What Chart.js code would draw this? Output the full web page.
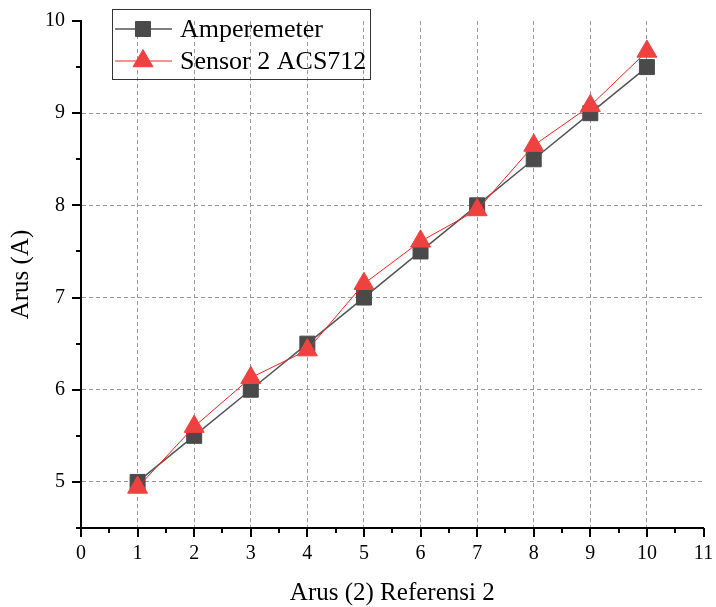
<!DOCTYPE html>
<html><head><meta charset="utf-8">
<script src="https://cdn.jsdelivr.net/npm/chart.js@4"></script>
<style>html,body{margin:0;padding:0;background:#fff;overflow:hidden}#wrap{width:716px;height:607px;position:relative}</style>
</head><body><div id="wrap"><canvas id="c" width="716" height="607"></canvas></div>
<script>
const xValues = [1, 2, 3, 4, 5, 6, 7, 8, 9, 10];
const amperemeter = [5, 5.5, 6, 6.5, 7, 7.5, 8, 8.5, 9, 9.5];
const sensor2 = [4.94, 5.6, 6.13, 6.43, 7.15, 7.61, 7.95, 8.65, 9.08, 9.67];
const seriesNames = ['Amperemeter', 'Sensor 2 ACS712'];
const xTicks = [0, 1, 2, 3, 4, 5, 6, 7, 8, 9, 10, 11];
const yTicks = [5, 6, 7, 8, 9, 10];
const xTitle = 'Arus (2) Referensi 2';
const yTitle = 'Arus (A)';

const FONT = "'Liberation Serif', 'Times New Roman', serif";
const GRAY_LINE = '#555555', GRAY_PT = '#4a4a4a';
const RED_LINE = '#ff2020', RED_PT = '#f04141';

const xMinor = xTicks.slice(0, -1).map(v => v + 0.5);
const yMinor = [yTicks[0] - 0.5].concat(yTicks.slice(0, -1).map(v => v + 0.5));

const axisTicks = {
  id: 'axisTicks',
  afterDraw(chart) {
    const ctx = chart.ctx, xs = chart.scales.x, ys = chart.scales.y;
    const ca = chart.chartArea;
    ctx.save();
    ctx.strokeStyle = '#000'; ctx.lineWidth = 2;
    ctx.beginPath();
    xTicks.forEach(v => { const p = Math.round(xs.getPixelForValue(v)); ctx.moveTo(p, ca.bottom); ctx.lineTo(p, ca.bottom + 9); });
    xMinor.forEach(v => { const p = Math.round(xs.getPixelForValue(v)); ctx.moveTo(p, ca.bottom); ctx.lineTo(p, ca.bottom + 5); });
    yTicks.forEach(v => { const p = Math.round(ys.getPixelForValue(v)); ctx.moveTo(ca.left, p); ctx.lineTo(ca.left - 9, p); });
    yMinor.forEach(v => { const p = Math.round(ys.getPixelForValue(v)); ctx.moveTo(ca.left, p); ctx.lineTo(ca.left - 5, p); });
    ctx.stroke();

    // legend
    ctx.lineWidth = 1; ctx.strokeStyle = '#333';
    ctx.strokeRect(112.5, 9.5, 258, 70);
    const rows = [
      {y: 29, line: GRAY_LINE, lw: 1.5, pt: GRAY_PT, style: 'rect', r: 10.6, text: seriesNames[0]},
      {y: 61, line: RED_LINE, lw: 1, pt: RED_PT, style: 'triangle', r: 11.5, text: seriesNames[1]}
    ];
    rows.forEach(rw => {
      ctx.strokeStyle = rw.line; ctx.lineWidth = rw.lw;
      ctx.beginPath(); ctx.moveTo(115, rw.y); ctx.lineTo(172, rw.y); ctx.stroke();
      ctx.fillStyle = rw.pt; ctx.strokeStyle = rw.pt; ctx.lineWidth = 1;
      Chart.helpers.drawPoint(ctx, {pointStyle: rw.style, radius: rw.r, rotation: 0, borderWidth: 1}, 143, rw.y);
      ctx.fillStyle = '#000';
      ctx.font = '26px ' + FONT;
      ctx.textBaseline = 'middle'; ctx.textAlign = 'left';
      ctx.fillText(rw.text, 180, rw.y + 1);
    });
    ctx.restore();
  }
};

const gridColorX = c => (c.tick && (c.tick.value === 0 || c.tick.value === 11)) ? 'rgba(0,0,0,0)' : '#9a9a9a';
const gridColorY = c => (c.tick && (c.tick.value === 10)) ? 'rgba(0,0,0,0)' : '#9a9a9a';

new Chart(document.getElementById('c'), {
  type: 'line',
  data: {
    datasets: [
      {
        label: seriesNames[1],
        data: xValues.map((x, i) => ({x, y: sensor2[i]})),
        borderColor: RED_LINE, borderWidth: 1,
        pointStyle: 'triangle', pointRadius: 11.5,
        pointBackgroundColor: RED_PT, pointBorderColor: RED_PT, pointBorderWidth: 1,
        order: 1, tension: 0
      },
      {
        label: seriesNames[0],
        data: xValues.map((x, i) => ({x, y: amperemeter[i]})),
        borderColor: GRAY_LINE, borderWidth: 1.5,
        pointStyle: 'rect', pointRadius: 10.6,
        pointBackgroundColor: GRAY_PT, pointBorderColor: GRAY_PT, pointBorderWidth: 1,
        order: 2, tension: 0
      }
    ]
  },
  options: {
    responsive: false, animation: false, devicePixelRatio: 1,
    layout: {padding: {left: 0, right: 10, top: 21, bottom: 0}},
    plugins: {legend: {display: false}, tooltip: {enabled: false}},
    scales: {
      x: {
        type: 'linear', min: 0, max: 11,
        afterBuildTicks: s => { s.ticks = xTicks.map(v => ({value: v})); },
        afterFit: s => { s.height = 79; s.paddingRight = 0; s.paddingLeft = 0; },
        grid: {color: gridColorX, lineWidth: 1, drawTicks: false},
        border: {display: true, color: '#000', width: 2, dash: [4, 3]},
        ticks: {color: '#000', font: {family: FONT, size: 20}, padding: 14, maxRotation: 0, autoSkip: false},
        title: {display: true, text: xTitle, color: '#000', font: {family: FONT, size: 25, lineHeight: 1}, padding: {top: 0, bottom: 1}}
      },
      y: {
        type: 'linear', min: 4.5, max: 10,
        afterBuildTicks: s => { s.ticks = yTicks.map(v => ({value: v})); },
        afterFit: s => { s.width = 81; s.paddingTop = 0; s.paddingBottom = 0; },
        grid: {color: gridColorY, lineWidth: 1, drawTicks: false},
        border: {display: true, color: '#000', width: 2, dash: [4, 3]},
        ticks: {color: '#000', font: {family: FONT, size: 20}, padding: 16},
        title: {display: true, text: yTitle, color: '#000', font: {family: FONT, size: 25, lineHeight: 1}, padding: {top: 9, bottom: 0}}
      }
    }
  },
  plugins: [axisTicks]
});
</script>
</body></html>
